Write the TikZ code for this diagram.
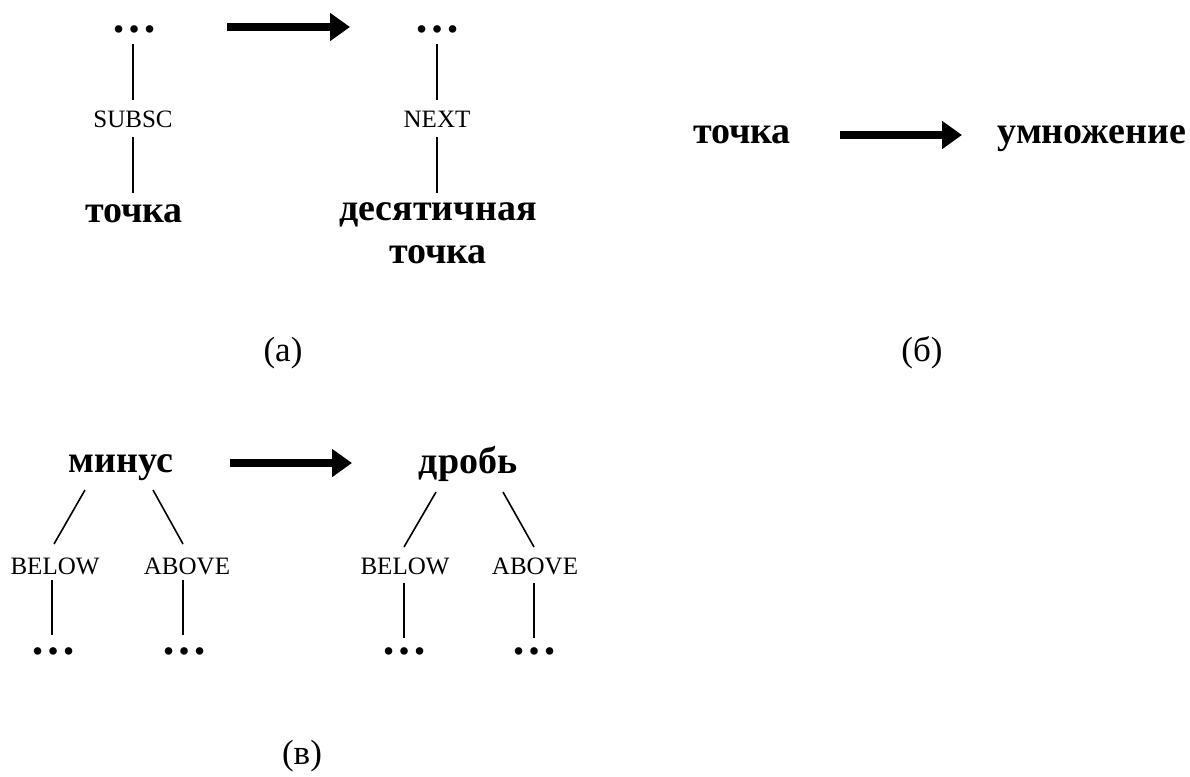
\documentclass[tikz,border=0pt]{standalone}
\usepackage{fontspec}
\setmainfont{Liberation Serif}[BoldFont={Liberation Serif Bold}]
\usetikzlibrary{arrows.meta,calc}
\begin{document}
\begin{tikzpicture}[x=1pt,y=-1pt,
  bw/.style={font=\fontsize{38}{43}\selectfont\bfseries, inner sep=0pt, anchor=base},
  lab/.style={font=\fontsize{25}{30}\selectfont, inner sep=0pt, anchor=base},
  ell/.style={font=\fontsize{46}{50}\selectfont\bfseries, inner sep=0pt, anchor=base, text height=8pt, text depth=0pt},
  captxt/.style={font=\fontsize{35}{40}\selectfont, inner sep=0pt, anchor=base},
  ln/.style={line width=1.6pt},
  big/.style={line width=8pt, -{Triangle[length=20pt,width=27pt]}}
]
\useasboundingbox (0,0) rectangle (1190,776);

% ---------- (a) ----------
\node[ell] (ad1) at (134,33) {…};
\node[lab] (subsc) at (133,127) {SUBSC};
\node[bw] (at1) at (134,222) {точка};
\draw[ln] ($(ad1.base)+(-1,11)$) -- ($(subsc.base)+(0,-27)$);
\draw[ln] ($(subsc.base)+(0,10)$) -- ($(at1.base)+(-1,-29)$);

\node[ell] (ad2) at (437,33) {…};
\node[lab] (next) at (437,127) {NEXT};
\node[bw] (dec1) at (438,220) {десятичная};
\node[bw] (dec2) at (438,263) {точка};
\draw[ln] ($(ad2.base)+(0,11)$) -- ($(next.base)+(0,-27)$);
\draw[ln] ($(next.base)+(0,10)$) -- ($(dec1.base)+(-1,-27)$);

\coordinate (aA) at (227,27);
\coordinate (aB) at (350,27);
\draw[big] (aA) -- (aB);
\node[captxt] (capa) at (283,361) {(а)};

% ---------- (б) ----------
\node[bw] (bt) at (742,143) {точка};
\node[bw] (bu) at (1092,143) {умножение};
\coordinate (bA) at (840,135);
\coordinate (bB) at (962,135);
\draw[big] (bA) -- (bB);
\node[captxt] (capb) at (922,361) {(б)};

% ---------- (в) ----------
\node[bw] (mn) at (121,472) {минус};
\node[lab] (bl1) at (55,574) {BELOW};
\node[lab] (ab1) at (187,574) {ABOVE};
\node[ell] (d11) at (53,654) {…};
\node[ell] (d12) at (184,654) {…};
\draw[ln] ($(mn.base)+(-36,18)$) -- ($(bl1.base)+(-1,-30)$);
\draw[ln] ($(mn.base)+(32,18)$) -- ($(ab1.base)+(-4,-30)$);
\draw[ln] ($(bl1.base)+(-3,6)$) -- ($(d11.base)+(-1,-19)$);
\draw[ln] ($(ab1.base)+(-4,6)$) -- ($(d12.base)+(-1,-19)$);

\node[bw] (dr) at (468,473) {дробь};
\node[lab] (bl2) at (405,574) {BELOW};
\node[lab] (ab2) at (535,574) {ABOVE};
\node[ell] (d21) at (404,654) {…};
\node[ell] (d22) at (534,654) {…};
\draw[ln] ($(dr.base)+(-32,19)$) -- ($(bl2.base)+(-1,-27)$);
\draw[ln] ($(dr.base)+(35,19)$) -- ($(ab2.base)+(-1,-27)$);
\draw[ln] ($(bl2.base)+(-1,9)$) -- ($(d21.base)+(0,-16)$);
\draw[ln] ($(ab2.base)+(-1,9)$) -- ($(d22.base)+(0,-16)$);

\coordinate (cA) at (230,463);
\coordinate (cB) at (352,463);
\draw[big] (cA) -- (cB);
\node[captxt] (capc) at (302,764) {(в)};
\end{tikzpicture}
\end{document}
